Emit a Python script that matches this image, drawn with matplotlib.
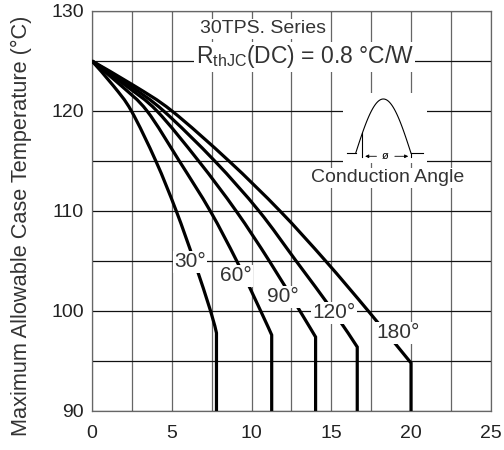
import numpy as np
import matplotlib.pyplot as plt
from matplotlib.patches import Rectangle, PathPatch
from matplotlib.path import Path

plt.rcParams['font.family'] = ['Liberation Sans', 'DejaVu Sans']
plt.rcParams['mathtext.default'] = 'regular'

# average on-state current (A) vs max case temperature (°C), one curve per conduction angle
angles = ['30°', '60°', '90°', '120°', '180°']
temp_pts = {
    '30°':  [125, 122.5, 120, 115, 110, 105, 100, 97.8, 90],
    '60°':  [125, 122.5, 120, 115, 110, 105, 100, 97.6, 90],
    '90°':  [125, 122.5, 120, 115, 110, 105, 100, 97.4, 90],
    '120°': [125, 122.5, 120, 115, 110, 105, 100, 96.4, 90],
    '180°': [125, 122.5, 120, 115, 110, 105, 100, 94.8, 90],
}
current_pts = {
    '30°':  [0, 1.35, 2.47, 4.00, 5.28, 6.40, 7.43, 7.80, 7.80],
    '60°':  [0, 1.85, 3.45, 5.47, 7.41, 9.07, 10.57, 11.26, 11.26],
    '90°':  [0, 2.15, 4.07, 6.68, 9.03, 11.11, 13.03, 14.01, 14.01],
    '120°': [0, 2.40, 4.49, 7.69, 10.46, 12.79, 15.10, 16.62, 16.62],
    '180°': [0, 2.67, 5.01, 8.58, 11.78, 14.64, 17.31, 19.99, 19.99],
}
# where each angle label sits on its curve
label_pos = {
    '30°': (6.14, 104.9),
    '60°': (9.02, 103.5),
    '90°': (11.99, 101.4),
    '120°': (15.16, 99.8),
    '180°': (19.19, 97.8),
}


def smooth_path(xs, ys):
    # catmull-rom through the curved part, straight drop after the knee
    pts = np.column_stack([xs[:-1], ys[:-1]])
    verts = [pts[0]]
    codes = [Path.MOVETO]
    n = len(pts)
    for i in range(n - 1):
        p0 = pts[max(i - 1, 0)]
        p1 = pts[i]
        p2 = pts[i + 1]
        p3 = pts[min(i + 2, n - 1)]
        verts += [p1 + (p2 - p0) / 6, p2 - (p3 - p1) / 6, p2]
        codes += [Path.CURVE4] * 3
    verts.append((xs[-1], ys[-1]))
    codes.append(Path.LINETO)
    return Path(verts, codes)


fig = plt.figure(figsize=(5.04, 4.5), dpi=100)
ax = fig.add_axes([0.1825, 0.0867, 0.7917, 0.8889])

ax.set_xlim(0, 25)
ax.set_ylim(90, 130)
ax.set_xticks(np.arange(0, 26, 5))
ax.set_yticks(np.arange(90, 131, 10))
ax.set_xticks(np.arange(0, 25.1, 2.5), minor=True)
ax.set_yticks(np.arange(90, 130.1, 5), minor=True)
ax.tick_params(which='both', length=0, labelsize=14, labelcolor='#222')
ax.tick_params(axis='x', pad=10)
ax.tick_params(axis='y', pad=6)
ax.grid(axis='x', which='both', color='#666', lw=0.9)
ax.grid(axis='y', which='both', color='#111', lw=0.9)
for s in ax.spines.values():
    s.set_color('#666')
    s.set_linewidth(0.9)

for a in angles:
    ax.add_patch(PathPatch(smooth_path(current_pts[a], temp_pts[a]), fill=False,
                           ec='black', lw=2.3, zorder=3, joinstyle='miter'))
    lx, ly = label_pos[a]
    ax.text(lx, ly, a, ha='center', va='center', fontsize=15, color='#333', zorder=5,
            bbox=dict(fc='white', ec='none', pad=1))

ax.set_ylabel('Maximum Allowable Case Temperature (°C)', fontsize=15.7, color='#333')
ax.yaxis.set_label_coords(-0.15, 0.462)

ax.text(6.77, 128.2, '30TPS. Series', fontsize=14, color='#333', va='center', zorder=5,
        bbox=dict(fc='white', ec='none', pad=1))
ax.text(6.5, 125.4, r'R$_{thJC}$(DC) = 0.8 °C/W', fontsize=16.5, color='#333',
        va='center', zorder=5, bbox=dict(fc='white', ec='none', pad=1))

# conduction angle sketch
ax.add_patch(Rectangle((15.75, 114.8), 5.25, 7.0, fc='white', ec='none', zorder=4))
base = 115.77
ph = np.linspace(0, np.pi, 60)
wx = 16.52 + ph / np.pi * (19.99 - 16.52)
wy = base + np.sin(ph) * 5.43
ax.plot(wx, wy, color='black', lw=0.8, zorder=5)
ax.plot([15.99, 16.52], [base, base], color='black', lw=0.8, zorder=5)
ax.plot([19.99, 20.76], [base, base], color='black', lw=0.8, zorder=5)
fire = 16.94
ax.plot([fire, fire], [base - 0.35, base + np.sin((fire - 16.52) / 3.47 * np.pi) * 5.43],
        color='black', lw=0.8, zorder=5)
ax.plot([19.99, 19.99], [base - 0.35, base], color='black', lw=0.8, zorder=5)
ax.annotate('', xy=(fire, base - 0.3), xytext=(18.0, base - 0.3),
            arrowprops=dict(arrowstyle='-|>', color='black', lw=0.6, mutation_scale=5),
            zorder=5)
ax.annotate('', xy=(19.99, base - 0.3), xytext=(18.8, base - 0.3),
            arrowprops=dict(arrowstyle='-|>', color='black', lw=0.6, mutation_scale=5),
            zorder=5)
ax.text(18.4, base - 0.3, 'ø', fontsize=8, ha='center', va='center', zorder=6)
ax.text(18.5, 113.3, 'Conduction Angle', fontsize=14, color='#333', ha='center',
        va='center', zorder=5, bbox=dict(fc='white', ec='none', pad=1))

plt.savefig('out.png', dpi=100)
